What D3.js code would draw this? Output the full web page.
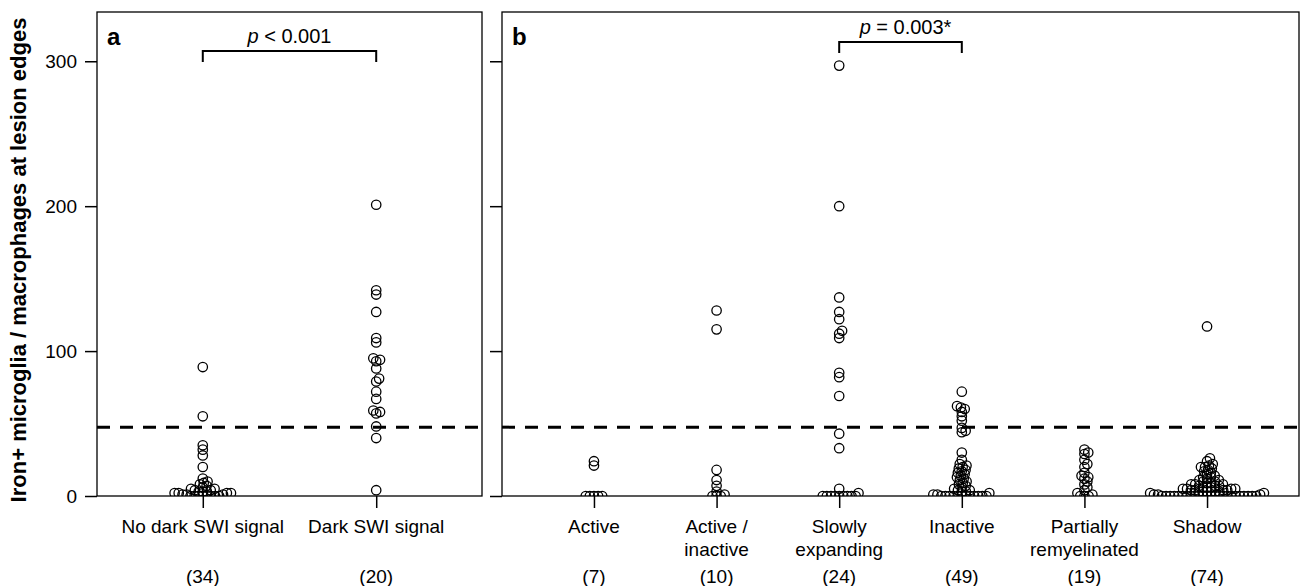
<!DOCTYPE html>
<html><head><meta charset="utf-8">
<script src="https://cdn.jsdelivr.net/npm/d3@7"></script>
<style>
body{margin:0;background:#fff}
text{font-family:"Liberation Sans",Arial,Helvetica,sans-serif;fill:#000}
</style>
</head><body>
<svg id="chart" width="1307" height="586"></svg>
<script>
// ---------- data ----------
const yTicks = [0, 100, 200, 300];
const threshold = 47.5;

const categoriesA = ["No dark SWI signal", "Dark SWI signal"];
const countsA = ["(34)", "(20)"];
const noDarkSWI = [89, 55, 35, 32, 28, 20, 12, 10, 9, 8, 7, 6, 5, 5, 4, 4, 3, 3, 3, 2, 2, 2, 2, 1, 1, 1, 0, 0, 0, 0, 0, 0, 0, 0];
const darkSWI = [201, 142, 139, 127, 109, 106, 95, 94, 93, 88, 81, 79, 72, 67, 59, 58, 57, 48, 40, 4];

const categoriesB = [["Active"], ["Active /", "inactive"], ["Slowly", "expanding"], ["Inactive"], ["Partially", "remyelinated"], ["Shadow"]];
const countsB = ["(7)", "(10)", "(24)", "(49)", "(19)", "(74)"];
const active = [24, 21, 0, 0, 0, 0, 0];
const activeInactive = [128, 115, 18, 11, 7, 3, 1, 0, 0, 0];
const slowlyExpanding = [297, 200, 137, 127, 122, 114, 112, 109, 85, 82, 69, 43, 33, 5, 2, 0, 0, 0, 0, 0, 0, 0, 0, 0];
const inactive = [72, 62, 61, 60, 58, 55, 52, 47, 45, 44, 30, 25, 22, 21, 20, 19, 18, 17, 16, 15, 14, 13, 12, 11, 10, 9, 8, 7, 6, 5, 4, 4, 3, 3, 2, 1, 1, 0, 0, 0, 0, 0, 0, 0, 0, 0, 0, 0, 0];
const partiallyRemyelinated = [32, 30, 29, 25, 22, 20, 16, 14, 13, 12, 10, 8, 6, 4, 2, 1, 0, 0, 0];
const shadow = [117, 26, 24, 22, 21, 20, 20, 19, 18, 17, 16, 15, 14, 13, 13, 12, 11, 11, 10, 10, 9, 9, 8, 8, 8, 7, 7, 7, 6, 6, 6, 5, 5, 5, 5, 4, 4, 4, 4, 3, 3, 3, 3, 3, 3, 2, 2, 1, 1, 1, 0, 0, 0, 0, 0, 0, 0, 0, 0, 0, 0, 0, 0, 0, 0, 0, 0, 0, 0, 0, 0, 0, 0, 0];

const groupsA = [noDarkSWI, darkSWI];
const groupsB = [active, activeInactive, slowlyExpanding, inactive, partiallyRemyelinated, shadow];

// ---------- layout ----------
const svg = d3.select("#chart");
const plotTop = 12, plotBottom = 496;
const panelA = {x0: 97, x1: 482};
const panelB = {x0: 502, x1: 1299};
const R = 4.7, SWARM_D = 4.1;
const FS = "19px";

const y = d3.scaleLinear().domain([0, 334]).range([plotBottom, plotTop]);

const xA = d3.scalePoint().domain(categoriesA).range([panelA.x0, panelA.x1]).padding(0.61);
const keysB = categoriesB.map(c => c.join(" "));
const xB = d3.scalePoint().domain(keysB).range([panelB.x0, panelB.x1]).padding(0.75);

function swarm(values) {
  const pts = values.map(v => ({v, y: y(v), x: 0})).sort((a, b) => b.y - a.y);
  const placed = [];
  for (const p of pts) {
    const cands = [0];
    for (const q of placed) {
      const dy = Math.abs(p.y - q.y);
      if (dy < SWARM_D) {
        const dx = Math.sqrt(SWARM_D * SWARM_D - dy * dy);
        cands.push(q.x - dx, q.x + dx);
      }
    }
    cands.sort((a, b) => Math.abs(a) - Math.abs(b) || b - a);
    for (const c of cands) {
      let ok = true;
      for (const q of placed) {
        const ddx = c - q.x, ddy = p.y - q.y;
        if (ddx * ddx + ddy * ddy < SWARM_D * SWARM_D - 1e-6) { ok = false; break; }
      }
      if (ok) { p.x = c; break; }
    }
    placed.push(p);
  }
  return pts;
}

const defs = svg.append("defs");
function panel(id, P, xScale, keys, groups) {
  defs.append("clipPath").attr("id", id).append("rect")
    .attr("x", P.x0).attr("y", plotTop).attr("width", P.x1 - P.x0).attr("height", plotBottom - plotTop);
  const g = svg.append("g");
  g.append("line").attr("x1", P.x0).attr("x2", P.x1)
    .attr("y1", y(threshold)).attr("y2", y(threshold))
    .attr("stroke", "#000").attr("stroke-width", 3).attr("stroke-dasharray", "13,10");
  const pg = g.append("g").attr("clip-path", `url(#${id})`);
  groups.forEach((vals, i) => {
    const cx = xScale(keys[i]);
    pg.selectAll(null).data(swarm(vals)).enter().append("circle")
      .attr("cx", d => cx + d.x).attr("cy", d => d.y).attr("r", R)
      .attr("fill", "none").attr("stroke", "#000").attr("stroke-width", 1.3);
  });
  g.append("rect").attr("x", P.x0).attr("y", plotTop).attr("width", P.x1 - P.x0).attr("height", plotBottom - plotTop)
    .attr("fill", "none").attr("stroke", "#000").attr("stroke-width", 1.3);
  const ax = d3.axisBottom(xScale).tickSize(12).tickFormat("");
  const axg = g.append("g").attr("transform", `translate(0,${plotBottom})`).call(ax);
  axg.select(".domain").remove();
  axg.selectAll("line").attr("stroke-width", 1.5);
  return g;
}

panel("clipA", panelA, xA, categoriesA, groupsA);
panel("clipB", panelB, xB, keysB, groupsB);

// y axes
const yAx = svg.append("g").attr("transform", `translate(${panelA.x0},0)`)
  .call(d3.axisLeft(y).tickValues(yTicks).tickSize(12).tickPadding(8));
yAx.select(".domain").remove();
yAx.selectAll("text").style("font-size", FS).style("font-family", '"Liberation Sans",Arial,sans-serif');
yAx.selectAll("line").attr("stroke-width", 1.5);

const yBx = svg.append("g").attr("transform", `translate(${panelB.x0},0)`)
  .call(d3.axisLeft(y).tickValues(yTicks).tickSize(12).tickFormat(""));
yBx.select(".domain").remove();
yBx.selectAll("line").attr("stroke-width", 1.5);

// category labels
categoriesA.forEach((c, i) => {
  svg.append("text").attr("x", xA(c)).attr("y", 533).attr("text-anchor", "middle")
    .style("font-size", FS).text(c);
  svg.append("text").attr("x", xA(c)).attr("y", 583).attr("text-anchor", "middle")
    .style("font-size", FS).text(countsA[i]);
});
categoriesB.forEach((lines, i) => {
  const cx = xB(keysB[i]);
  lines.forEach((ln, j) => {
    svg.append("text").attr("x", cx).attr("y", 533 + j * 23).attr("text-anchor", "middle")
      .style("font-size", FS).text(ln);
  });
  svg.append("text").attr("x", cx).attr("y", 583).attr("text-anchor", "middle")
    .style("font-size", FS).text(countsB[i]);
});

// y title
svg.append("text").attr("transform", `translate(26,260) rotate(-90)`)
  .attr("text-anchor", "middle").style("font-size", "22px").style("font-weight", "bold")
  .text("Iron+ microglia / macrophages at lesion edges");

// panel letters
svg.append("text").attr("x", 107).attr("y", 45).style("font-size", "24px").style("font-weight", "bold").text("a");
svg.append("text").attr("x", 512).attr("y", 45).style("font-size", "24px").style("font-weight", "bold").text("b");

// brackets
function bracket(x1, x2, yb, label, dx) {
  svg.append("path").attr("d", `M${x1},${yb + 11}V${yb}H${x2}V${yb + 11}`)
    .attr("fill", "none").attr("stroke", "#000").attr("stroke-width", 2);
  const t = svg.append("text").attr("x", (x1 + x2) / 2 + dx).attr("y", yb - 8)
    .attr("text-anchor", "middle").style("font-size", "20px");
  t.append("tspan").style("font-style", "italic").text("p");
  t.append("tspan").text(label);
}
bracket(xA(categoriesA[0]), xA(categoriesA[1]), 51, " < 0.001", 0);
bracket(xB(keysB[2]), xB(keysB[3]), 42, " = 0.003*", 5);
</script>
</body></html>
